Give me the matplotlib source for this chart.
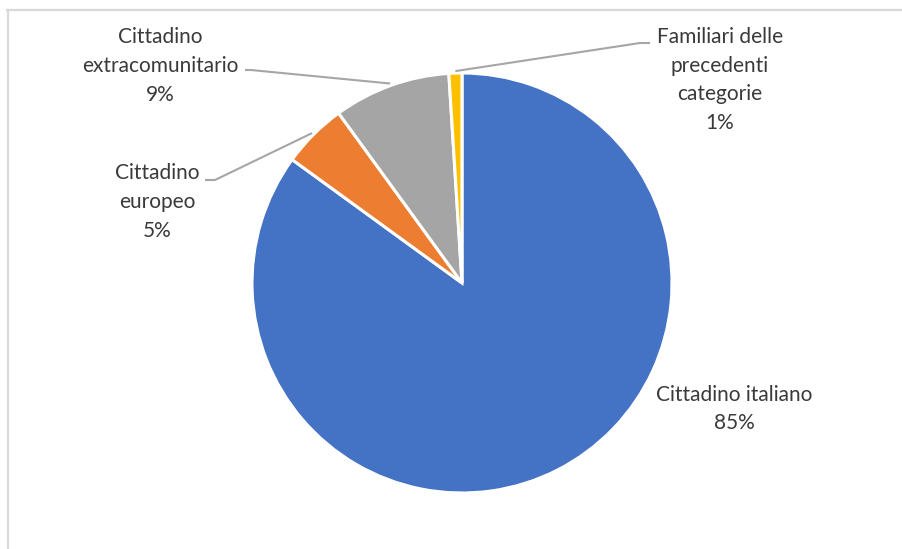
import numpy as np
import matplotlib.pyplot as plt
from matplotlib.lines import Line2D

labels = ["Cittadino italiano", "Cittadino\neuropeo", "Cittadino\nextracomunitario", "Familiari delle\nprecedenti\ncategorie"]
values = [85, 5, 9, 1]
colors = ["#4472C4", "#ED7D31", "#A5A5A5", "#FFC000"]

# where each label block sits (pixel coords, y from top) and the end of its leader stub
label_pos = [(734, 409), (157, 202), (160, 66), (720, 80)]
stub_ends = [None, (205, 180), (245, 70), (650, 43)]
stub_len = [0, 10, 6, -10]

W, H = 903, 549


def draw_frame(fig):
    fig.add_artist(Line2D([7 / W, 1], [1 - 10 / H, 1 - 10 / H], color="#D9D9D9", lw=1.6))
    fig.add_artist(Line2D([8 / W, 8 / W], [0, 1 - 10 / H], color="#D9D9D9", lw=1.6))


def draw_pie(ax):
    wedges, _ = ax.pie(values, colors=colors, startangle=90, counterclock=False,
                       center=(462, H - 283), radius=210,
                       wedgeprops=dict(edgecolor="white", linewidth=2.2))
    total = sum(values)
    for i, w in enumerate(wedges):
        pct = f"{round(values[i] / total * 100)}%"
        lx, ly = label_pos[i]
        ax.text(lx, H - ly, f"{labels[i]}\n{pct}", ha="center", va="center",
                fontsize=15, color="#3A3A3A", linespacing=1.55, family="Lato")
        if stub_ends[i] is None:
            continue
        mid = np.deg2rad((w.theta1 + w.theta2) / 2)
        ax_x = 462 + 212 * np.cos(mid)
        ax_y = (H - 283) + 212 * np.sin(mid)
        sx, sy = stub_ends[i]
        ax.plot([sx, sx + stub_len[i], ax_x], [H - sy, H - sy, ax_y],
                color="#A6A6A6", lw=1.5, solid_capstyle="butt")


fig = plt.figure(figsize=(W / 100, H / 100), dpi=100)
ax = fig.add_axes([0, 0, 1, 1])

draw_pie(ax)
# pie() resets the limits, so set them afterwards
ax.set_xlim(0, W)
ax.set_ylim(0, H)
ax.set_aspect("equal")
ax.axis("off")
draw_frame(fig)

fig.savefig("out.png", dpi=100)
